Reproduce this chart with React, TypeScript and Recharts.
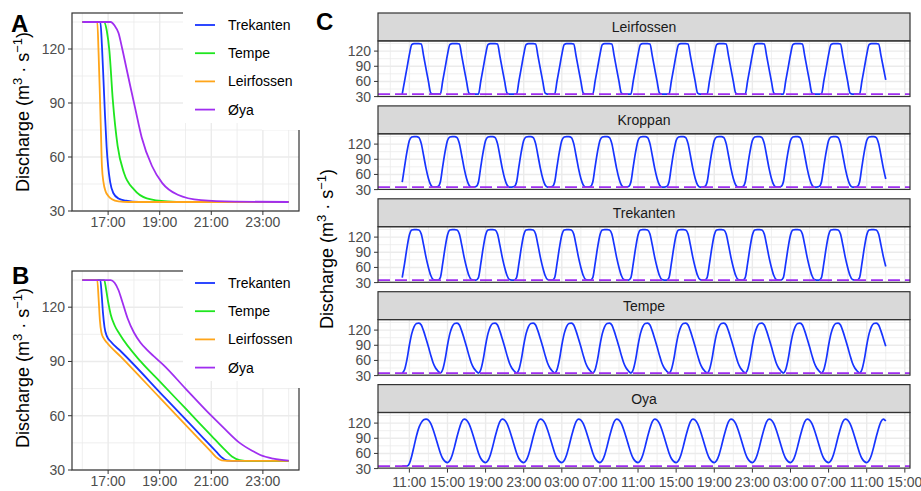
import React from "react";
import { LineChart, Line, XAxis, YAxis, ReferenceLine } from "recharts";

const FONT = '"Liberation Sans", Arial, Helvetica, sans-serif';
const GRID = "#EBEBEB";
const BORDER = "#333333";
const TICK = "#4D4D4D";

// station colours (panels A and B)
const stations = ["Trekanten", "Tempe", "Leirfossen", "Øya"];
const stationColors = ["#1734FF", "#1FE61F", "#FFA51A", "#A02EF0"];

// axis settings for A and B
const abTicks = [17, 19, 21, 23];
const abTickLabels = ["17:00", "19:00", "21:00", "23:00"];
const abMinorX = [16, 18, 20, 22, 24];
const qTicks = [30, 60, 90, 120];
const qMinor = [45, 75, 105, 135];

// Panel A - hour of day and discharge
const aTrekT = [16, 16.7, 16.76, 16.82, 16.88, 16.94, 17.0, 17.08, 17.2, 17.4, 17.7, 18.2, 24];
const aTrekQ = [135, 135, 122, 103, 83, 66, 55, 46, 40, 37, 35.7, 35, 35];
const aTempeT = [16, 16.84, 16.95, 17.05, 17.18, 17.37, 17.62, 18.0, 18.5, 19.3, 20, 24];
const aTempeQ = [135, 135, 130, 119, 92, 66, 51, 42, 37, 35.3, 35, 35];
const aLeirT = [16, 16.58, 16.63, 16.68, 16.72, 16.76, 16.82, 16.9, 17.0, 17.15, 17.4, 17.8, 24];
const aLeirQ = [135, 135, 118, 95, 75, 55, 46, 41, 38.5, 36.5, 35.3, 35, 35];
const aOyaT = [16, 17.1, 17.25, 17.4, 17.55, 17.7, 17.85, 18.05, 18.3, 18.7, 19.1, 19.7, 20.6, 21.9, 24];
const aOyaQ = [135, 135, 133, 129, 120, 110, 100, 87, 71, 55, 45.5, 39, 36, 35.2, 35];

// Panel B - hour of day and discharge
const bTrekT = [16, 16.7, 16.75, 16.8, 16.86, 16.95, 17.1, 17.5, 19.2, 20.7, 21.2, 21.4, 21.6, 22, 24];
const bTrekQ = [135, 135, 127, 117, 109, 104, 101, 95.5, 70, 47.5, 40, 37, 35.3, 35, 35];
const bTempeT = [16, 16.85, 16.92, 17.0, 17.1, 17.25, 17.45, 18.26, 19.0, 20.0, 21.0, 21.5, 21.8, 22.1, 22.5, 24];
const bTempeQ = [135, 135, 130, 123, 116, 110, 105, 90, 79, 64, 49, 41.5, 37.5, 35.5, 35, 35];
const bLeirT = [16, 16.58, 16.63, 16.68, 16.74, 16.82, 16.95, 17.5, 19.0, 20.5, 21.0, 21.2, 21.4, 21.8, 24];
const bLeirQ = [135, 135, 125, 113, 106, 103, 100.5, 92.5, 70, 47.5, 40, 37, 35.3, 35, 35];
const bOyaT = [16, 17.1, 17.25, 17.4, 17.55, 17.75, 18.0, 18.25, 18.5, 18.8, 19.15, 20.0, 21.0, 21.5, 22.1, 22.6, 22.9, 23.4, 24];
const bOyaQ = [135, 135, 133.5, 129.5, 123, 114, 106, 100.5, 96.5, 92.5, 88, 75, 60, 53, 45, 40.5, 38.3, 36.3, 35.2];

// Panel C - hours after 11:00, sampled every 15 minutes from -0.75 h
const cStart = -0.75;
const cStepH = 0.25;
const cCycles = 12;
const cTicks = [0, 4, 8, 12, 16, 20, 24, 28, 32, 36, 40, 44, 48, 52];
const cTickLabels = ["11:00", "15:00", "19:00", "23:00", "03:00", "07:00", "11:00", "15:00", "19:00", "23:00", "03:00", "07:00", "11:00", "15:00"];
const cMinorX = [-2, 2, 6, 10, 14, 18, 22, 26, 30, 34, 38, 42, 46, 50];
const cMinQ = 35;

const leirLead: number[] = [];
const leirCycle = [35, 61, 87, 113, 133, 135, 135, 135, 134, 110, 85, 60, 37, 35, 35, 35];
const leirTail = [35, 61, 87, 113, 133, 135, 135, 135, 134, 111, 87, 63];
const kropLead: number[] = [];
const kropCycle = [45, 76, 105, 127, 134, 135, 135, 133, 121, 97, 72, 52, 39, 35, 35, 36];
const kropTail = [45, 76, 105, 127, 134, 135, 135, 133, 121, 97, 72, 51];
const trekLead: number[] = [];
const trekCycle = [40, 68, 99, 124, 134, 135, 135, 134, 126, 104, 80, 60, 44, 36, 35, 35];
const trekTail = [40, 68, 99, 124, 134, 135, 135, 134, 126, 104, 81, 62];
const tempeLead: number[] = [];
const tempeCycle = [35, 42, 62, 90, 113, 127, 133, 134, 130, 118, 103, 87, 70, 55, 45, 39];
const tempeTail = [35, 42, 62, 90, 113, 127, 133, 134, 130, 118, 103, 88];
const oyaLead = [35, 35, 35, 40, 55, 75, 95, 111, 121, 126.5];
const oyaCycle = [128, 126, 119, 107, 92, 76, 61, 50, 44, 42, 46, 57, 74, 93, 110, 123];
const oyaTail = [128, 124];

const facetNames = ["Leirfossen", "Kroppan", "Trekanten", "Tempe", "Oya"];

type Pt = { t: number; q: number };

const pairs = (t: number[], q: number[]): Pt[] => t.map((x, i) => ({ t: x, q: q[i] }));

const buildFacet = (lead: number[], cycle: number[], tail: number[]): Pt[] => {
  const q: number[] = [...lead];
  for (let k = 0; k < cCycles; k++) q.push(...cycle);
  q.push(...tail);
  return q.map((v, i) => ({ t: cStart + i * cStepH, q: v }));
};

const aSeries = [pairs(aTrekT, aTrekQ), pairs(aTempeT, aTempeQ), pairs(aLeirT, aLeirQ), pairs(aOyaT, aOyaQ)];
const bSeries = [pairs(bTrekT, bTrekQ), pairs(bTempeT, bTempeQ), pairs(bLeirT, bLeirQ), pairs(bOyaT, bOyaQ)];
const cSeries = [
  buildFacet(leirLead, leirCycle, leirTail),
  buildFacet(kropLead, kropCycle, kropTail),
  buildFacet(trekLead, trekCycle, trekTail),
  buildFacet(tempeLead, tempeCycle, tempeTail),
  buildFacet(oyaLead, oyaCycle, oyaTail),
];

const tickStyle = { fill: TICK, fontSize: 14, fontFamily: FONT };

// layout of the panels (pixels)
const C_LEFT = 378;
const C_RIGHT = 910;
const C_TOP = 40.9;
const C_STEP = 92.9;
const C_PH = 55.6;
const C_STRIP = 27.9;

const StopPanel = ({ top, height, series }: { top: number; height: number; series: Pt[][] }) => (
  <div style={{ position: "absolute", left: 0, top, width: 310, height }}>
    <LineChart width={310} height={height} margin={{ top: 13, right: 11, bottom: 0, left: 0 }}>
      <XAxis
        type="number"
        dataKey="t"
        domain={[15.6, 24.4]}
        allowDataOverflow
        ticks={abTicks}
        tickFormatter={(v: number) => abTickLabels[abTicks.indexOf(v)]}
        height={39}
        axisLine={false}
        tickSize={4}
        tickMargin={2}
        tickLine={{ stroke: BORDER }}
        tick={tickStyle}
      />
      <YAxis
        type="number"
        dataKey="q"
        domain={[30, 140]}
        allowDataOverflow
        ticks={qTicks}
        width={72}
        axisLine={false}
        tickSize={4}
        tickMargin={3}
        tickLine={{ stroke: BORDER }}
        tick={tickStyle}
      />
      {abMinorX.map((v) => (
        <ReferenceLine key={`mx${v}`} x={v} stroke={GRID} strokeWidth={0.8} />
      ))}
      {qMinor.map((v) => (
        <ReferenceLine key={`my${v}`} y={v} stroke={GRID} strokeWidth={0.8} />
      ))}
      {abTicks.map((v) => (
        <ReferenceLine key={`gx${v}`} x={v} stroke={GRID} strokeWidth={1.4} />
      ))}
      {qTicks.map((v) => (
        <ReferenceLine key={`gy${v}`} y={v} stroke={GRID} strokeWidth={1.4} />
      ))}
      {series.map((s, i) => (
        <Line
          key={stations[i]}
          data={s}
          dataKey="q"
          type="monotone"
          stroke={stationColors[i]}
          strokeWidth={1.8}
          dot={false}
          isAnimationActive={false}
        />
      ))}
    </LineChart>
  </div>
);

const FacetPanel = ({ index }: { index: number }) => {
  const showX = index === facetNames.length - 1;
  const xh = showX ? 25 : 0;
  const pad = showX ? 0 : 10;
  return (
    <div style={{ position: "absolute", left: 310, top: C_TOP + index * C_STEP, width: 611, height: C_PH + xh + pad }}>
      <LineChart width={611} height={C_PH + xh + pad} margin={{ top: 0, right: 921 - C_RIGHT, bottom: pad, left: 0 }}>
        <XAxis
          type="number"
          dataKey="t"
          domain={[-3.29, 52.54]}
          allowDataOverflow
          ticks={cTicks}
          tickFormatter={(v: number) => cTickLabels[cTicks.indexOf(v)]}
          hide={!showX}
          height={xh}
          axisLine={false}
          tickSize={4}
          tickMargin={4}
          tickLine={{ stroke: BORDER }}
          tick={tickStyle}
          interval={0}
        />
        <YAxis
          type="number"
          dataKey="q"
          domain={[30, 140]}
          allowDataOverflow
          ticks={qTicks}
          width={C_LEFT - 310}
          axisLine={false}
          tickSize={4}
          tickMargin={3}
          tickLine={{ stroke: BORDER }}
          tick={tickStyle}
          interval={0}
        />
        {cMinorX.map((v) => (
          <ReferenceLine key={`mx${v}`} x={v} stroke={GRID} strokeWidth={0.8} />
        ))}
        {qMinor.map((v) => (
          <ReferenceLine key={`my${v}`} y={v} stroke={GRID} strokeWidth={0.8} />
        ))}
        {cTicks.map((v) => (
          <ReferenceLine key={`gx${v}`} x={v} stroke={GRID} strokeWidth={1.4} />
        ))}
        {qTicks.map((v) => (
          <ReferenceLine key={`gy${v}`} y={v} stroke={GRID} strokeWidth={1.4} />
        ))}
        <Line
          data={cSeries[index]}
          dataKey="q"
          type="monotone"
          stroke="#1734FF"
          strokeWidth={1.7}
          dot={false}
          isAnimationActive={false}
        />
        <ReferenceLine y={cMinQ} stroke="#A02EF0" strokeWidth={1.7} strokeDasharray="12 5" />
      </LineChart>
    </div>
  );
};

const AxisTitle = ({ x, y }: { x: number; y: number }) => (
  <text
    x={x}
    y={y}
    transform={`rotate(-90 ${x} ${y})`}
    textAnchor="middle"
    fontSize={18}
    fontFamily={FONT}
    fill="#000"
  >
    Discharge (m
    <tspan dy={-7} fontSize={13}>3</tspan>
    <tspan dy={7}> · s</tspan>
    <tspan dy={-7} fontSize={13}>−1</tspan>
    <tspan dy={7}>)</tspan>
  </text>
);

// legend box sits over the top-right corner of the panel, hiding part of its border
const Legend = ({ top }: { top: number }) => (
  <g>
    <rect x={183} y={top} width={126} height={111} fill="#fff" />
    <rect x={262} y={top + 110} width={47} height={8} fill="#fff" />
    {stations.map((s, i) => (
      <g key={s}>
        <line x1={195} x2={215} y1={top + 13 + i * 28.2} y2={top + 13 + i * 28.2} stroke={stationColors[i]} strokeWidth={1.8} />
        <text x={228} y={top + 18 + i * 28.2} fontSize={14} fontFamily={FONT} fill="#000">
          {s}
        </text>
      </g>
    ))}
  </g>
);

const Overlay = () => (
  <svg width={921} height={491} style={{ position: "absolute", left: 0, top: 0, pointerEvents: "none" }}>
    {/* panel borders A and B */}
    <rect x={72} y={13} width={227} height={198} fill="none" stroke={BORDER} strokeWidth={1.2} />
    <rect x={72} y={271} width={227} height={199} fill="none" stroke={BORDER} strokeWidth={1.2} />
    <Legend top={12} />
    <Legend top={270} />
    <AxisTitle x={28.5} y={112} />
    <AxisTitle x={28.5} y={368} />
    <AxisTitle x={333} y={249} />
    <text x={11} y={32} fontSize={24} fontWeight="bold" fontFamily={FONT}>A</text>
    <text x={12} y={284} fontSize={24} fontWeight="bold" fontFamily={FONT}>B</text>
    <text x={316} y={30} fontSize={24} fontWeight="bold" fontFamily={FONT}>C</text>
    {facetNames.map((name, i) => {
      const pt = C_TOP + i * C_STEP;
      return (
        <g key={name}>
          <rect x={C_LEFT} y={pt - C_STRIP} width={C_RIGHT - C_LEFT} height={C_STRIP} fill="#D9D9D9" stroke={BORDER} strokeWidth={1.2} />
          <rect x={C_LEFT} y={pt} width={C_RIGHT - C_LEFT} height={C_PH} fill="none" stroke={BORDER} strokeWidth={1.2} />
          <text x={(C_LEFT + C_RIGHT) / 2} y={pt - C_STRIP / 2 + 5} textAnchor="middle" fontSize={14} fontFamily={FONT} fill="#1A1A1A">
            {name}
          </text>
        </g>
      );
    })}
  </svg>
);

export default function App() {
  return (
    <div style={{ position: "absolute", left: 0, top: 0, width: 921, height: 491, background: "#fff", overflow: "hidden" }}>
      <StopPanel top={0} height={250} series={aSeries} />
      <StopPanel top={258} height={251} series={bSeries} />
      {facetNames.map((n, i) => (
        <FacetPanel key={n} index={i} />
      ))}
      <Overlay />
    </div>
  );
}
